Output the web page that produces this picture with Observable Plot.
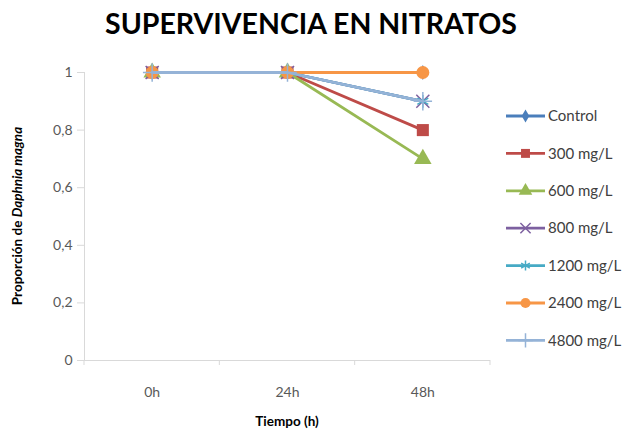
<!DOCTYPE html>
<html><head><meta charset="utf-8">
<script src="https://cdn.jsdelivr.net/npm/d3@7"></script>
<script src="https://cdn.jsdelivr.net/npm/@observablehq/plot@0.6"></script>
<style>
body{margin:0;background:#fff;}
svg{font-family:Lato,"Open Sans",sans-serif;}
</style></head>
<body><div id="chart"></div>
<script>
const title = "SUPERVIVENCIA EN NITRATOS";
const categories = ["0h", "24h", "48h"];
const yTicks = [0, 0.2, 0.4, 0.6, 0.8, 1];
const seriesNames = ["Control", "300 mg/L", "600 mg/L", "800 mg/L", "1200 mg/L", "2400 mg/L", "4800 mg/L"];
const control = [1, 1, 1];
const s300 = [1, 1, 0.8];
const s600 = [1, 1, 0.7];
const s800 = [1, 1, 0.9];
const s1200 = [1, 1, 0.9];
const s2400 = [1, 1, 1];
const s4800 = [1, 1, 0.9];
const seriesValues = [control, s300, s600, s800, s1200, s2400, s4800];
const colors = ["#4A7EBB", "#BE4B48", "#98B954", "#7D60A0", "#46AAC5", "#F79646", "#95B3D7"];
const symbols = ["diamond", "square", "triangle", "times", "asterisk", "circle", "plus"];
const strokeSymbols = new Set(["times", "asterisk", "plus"]);
const markerR = {diamond: 4.5, square: 6.8, triangle: 6.5, times: 6, asterisk: 6, circle: 6.5, plus: 6};
const legendSize = {diamond: 50, square: 80, triangle: 80, times: 70, asterisk: 70, circle: 80, plus: 70};

const data = [];
seriesNames.forEach((s, si) => seriesValues[si].forEach((v, i) => data.push({series: s, si, i, v})));

const marks = [
  Plot.ruleX([-0.5], {stroke: "#d9d9d9", strokeWidth: 1, strokeOpacity: 1}),
  Plot.ruleY([0], {stroke: "#d9d9d9", strokeWidth: 1, strokeOpacity: 1}),
  Plot.axisY(yTicks, {anchor: "left", tickSize: 7, stroke: "#d9d9d9", strokeOpacity: 1, tickFormat: d => String(d).replace(".", ","), fill: "#595959", fontSize: 14, tickPadding: 5, label: null}),
  Plot.axisX(categories.map((c, i) => i), {anchor: "bottom", tickSize: 0, tickFormat: i => categories[i], fill: "#595959", fontSize: 14, tickPadding: 27, label: null}),
];
seriesNames.forEach((s, si) => {
  const d = data.filter(r => r.si === si);
  marks.push(Plot.line(d, {x: "i", y: "v", stroke: colors[si], strokeWidth: 2.8}));
  const st = strokeSymbols.has(symbols[si]);
  marks.push(Plot.dot(d, {x: "i", y: "v", symbol: () => symbols[si], r: markerR[symbols[si]],
    fill: st ? "none" : colors[si], stroke: st ? colors[si] : "none", strokeWidth: 1.5}));
});

const plot = Plot.plot({
  width: 632, height: 434,
  marginLeft: 84, marginRight: 142, marginTop: 72, marginBottom: 74,
  x: {type: "linear", domain: [-0.5, categories.length - 0.5], axis: null},
  y: {type: "linear", domain: [0, 1], axis: null},
  symbol: {type: "identity"},
  style: {fontFamily: "Lato, 'Open Sans', sans-serif", background: "#fff"},
  marks
});
document.getElementById("chart").appendChild(plot);

const svg = d3.select(plot);
const xs = plot.scale("x"), ys = plot.scale("y");
const xTickG = svg.append("g");
d3.range(categories.length + 1).forEach(i => {
  const x = xs.apply(i - 0.5);
  xTickG.append("line").attr("x1", x).attr("x2", x).attr("y1", ys.apply(0)).attr("y2", ys.apply(0) + 5).attr("stroke", "#d9d9d9");
});

svg.append("text").attr("x", 311).attr("y", 34).attr("text-anchor", "middle")
  .attr("font-size", 28.5).attr("font-weight", "bold").attr("fill", "#000").text(title);
svg.append("text").attr("x", (xs.apply(-0.5) + xs.apply(categories.length - 0.5)) / 2).attr("y", 426)
  .attr("text-anchor", "middle").attr("font-size", 13.5).attr("font-weight", "bold").attr("fill", "#000").text("Tiempo (h)");
const yt = svg.append("text").attr("transform", "translate(22,216) rotate(-90)").attr("text-anchor", "middle")
  .attr("font-size", 13.5).attr("font-weight", "bold").attr("fill", "#000");
yt.append("tspan").text("Proporción de ");
yt.append("tspan").attr("font-style", "italic").text("Daphnia magna");

const symMap = {diamond: d3.symbolDiamond, square: d3.symbolSquare, triangle: d3.symbolTriangle, times: d3.symbolTimes, asterisk: d3.symbolAsterisk, circle: d3.symbolCircle, plus: d3.symbolPlus};
const lg = svg.append("g");
seriesNames.forEach((s, si) => {
  const y = 116 + si * 37.4;
  const g = lg.append("g").attr("transform", `translate(0,${y})`);
  g.append("line").attr("x1", 506).attr("x2", 545).attr("stroke", colors[si]).attr("stroke-width", 2.8);
  const st = strokeSymbols.has(symbols[si]);
  g.append("path").attr("transform", "translate(525.5,0)").attr("d", d3.symbol(symMap[symbols[si]], legendSize[symbols[si]])())
    .attr("fill", st ? "none" : colors[si]).attr("stroke", st ? colors[si] : "none").attr("stroke-width", 1.5);
  g.append("text").attr("x", 548).attr("dy", "0.35em").attr("text-anchor", "start").attr("font-size", 15).attr("fill", "#404040").text(s);
});
</script></body></html>
